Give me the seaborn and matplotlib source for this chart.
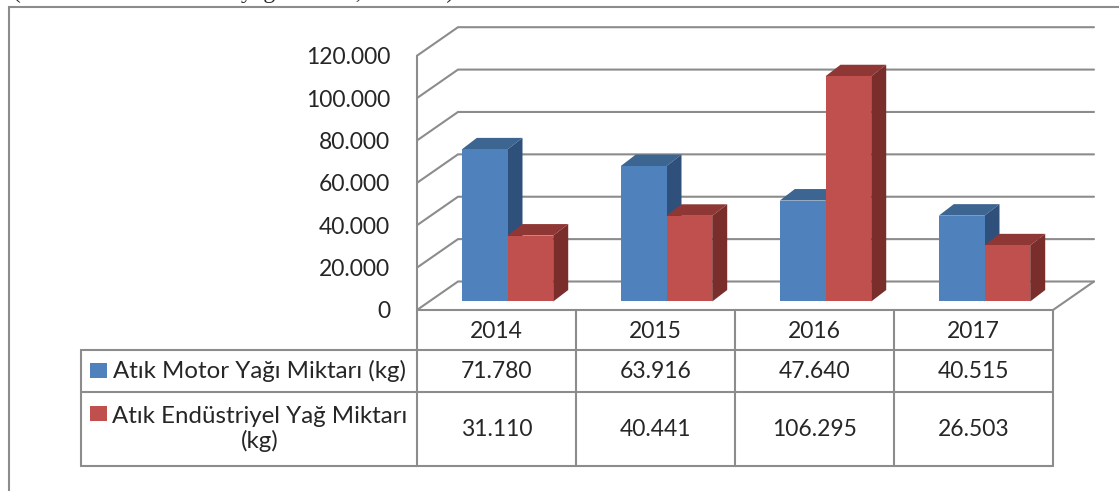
import pandas as pd
import seaborn as sns
import matplotlib.pyplot as plt
import matplotlib.transforms as mtransforms
from matplotlib.colors import to_hex
from matplotlib.patches import Polygon, Rectangle

# data
years = ["2014", "2015", "2016", "2017"]
motor_oil = [71780, 63916, 47640, 40515]
industrial_oil = [31110, 40441, 106295, 26503]
series_names = ["Atık Motor Yağı Miktarı (kg)", "Atık Endüstriyel Yağ Miktarı\n(kg)"]
y_ticks = [0, 20000, 40000, 60000, 80000, 100000, 120000]

W, H = 1119, 491
BLUE, RED = "#4F81BD", "#C0504D"
TOP = {BLUE: "#3D6591", RED: "#8E3735"}
SIDE = {BLUE: "#30507C", RED: "#7A2E2C"}
GRID = "#8C8C8C"
FS = 16.5


def tr(n):
    # turkish thousands separator
    return "0" if n == 0 else f"{n:,}".replace(",", ".")


sns.set_style("white")
plt.rcParams["font.family"] = ["Lato", "DejaVu Sans"]

df = pd.DataFrame({
    "Yıl": years * 2,
    "Miktar": motor_oil + industrial_oil,
    "Seri": [series_names[0]] * 4 + [series_names[1]] * 4,
})

fig = plt.figure(figsize=(W / 100, H / 100), dpi=100)

# pixel overlay for frame and table
bg = fig.add_axes([0, 0, 1, 1])
bg.set_xlim(0, W)
bg.set_ylim(H, 0)
bg.axis("off")

# front plane of the plot area (pixels)
L, R, B, T = 417, 1053, 310, 55.7
ax = fig.add_axes([L / W, (H - B) / H, (R - L) / W, (B - T) / H])
ax.patch.set_visible(False)

sns.barplot(data=df, x="Yıl", y="Miktar", hue="Seri", hue_order=series_names,
            palette=[BLUE, RED], width=0.575, saturation=1, legend=False,
            errorbar=None, linewidth=0, ax=ax)
ax.set_xlim(-0.5, 3.5)
ax.set_ylim(0, 120000)
ax.set_xlabel("")
ax.set_ylabel("")
ax.set_xticks([])
ax.set_yticks(y_ticks, [tr(v) for v in y_ticks])
ax.tick_params(axis="y", length=0, pad=27 * 0.72, labelsize=FS)
for s in ax.spines.values():
    s.set_visible(False)

# pixel -> data conversion
p0 = ax.transData.transform((0, 0))
p1 = ax.transData.transform((1, 1))
sx, sy = p1[0] - p0[0], p1[1] - p0[1]


def px(dx, dy):
    return dx / sx, dy / sy


# back wall, side wall and floor
wx, wy = px(41, 28.5)
for v in y_ticks:
    ax.plot([-0.5, -0.5 + wx, 3.5 + wx], [v, v + wy, v + wy], color=GRID, lw=1.5,
            clip_on=False, zorder=1, solid_joinstyle="miter")
ax.plot([-0.5, -0.5], [0, 120000], color=GRID, lw=1.5, clip_on=False, zorder=1)
ax.plot([3.5, 3.5 + wx], [0, wy], color=GRID, lw=1.5, clip_on=False, zorder=1)

# 3d bars
ox, oy = px(11, 8.5)
dx, dy = px(15, 11.5)
for p in list(ax.patches):
    col = to_hex(p.get_facecolor()).upper()
    k = 0 if col == BLUE else 1
    x0, w, h = p.get_x(), p.get_width(), p.get_height()
    p.set_x(x0 + ox)
    p.set_y(oy)
    p.set_zorder(3.5 + 2 * k)
    p.set_clip_on(False)
    xa, xb = x0 + ox, x0 + ox + w
    top = Polygon([(xa, h + oy), (xb, h + oy), (xb + dx, h + oy + dy), (xa + dx, h + oy + dy)],
                  closed=True, facecolor=TOP[col], edgecolor="none", zorder=3 + 2 * k, clip_on=False)
    side = Polygon([(xb, oy), (xb + dx, oy + dy), (xb + dx, h + oy + dy), (xb, h + oy)],
                   closed=True, facecolor=SIDE[col], edgecolor="none", zorder=3 + 2 * k, clip_on=False)
    ax.add_patch(top)
    ax.add_patch(side)

# data table
trans = mtransforms.blended_transform_factory(ax.transData, bg.transData)
row_top, row_mid, row_bot = 350, 391.7, 465.7
for i in range(len(years) + 1):
    bg.plot([i - 0.5, i - 0.5], [B, row_bot], color=GRID, lw=1.5, transform=trans, clip_on=False)
bg.plot([L, R], [B, B], color=GRID, lw=1.5)
for yy in (row_top, row_mid, row_bot):
    bg.plot([80.7, R], [yy, yy], color=GRID, lw=1.5)
bg.plot([80.7, 80.7], [row_top, row_bot], color=GRID, lw=1.5)

for i, yr in enumerate(years):
    bg.text(i, 331, yr, transform=trans, ha="center", va="center", fontsize=FS)
    bg.text(i, 371, tr(motor_oil[i]), transform=trans, ha="center", va="center", fontsize=FS)
    bg.text(i, 429, tr(industrial_oil[i]), transform=trans, ha="center", va="center", fontsize=FS)

bg.add_patch(Rectangle((90, 363), 16.5, 15, facecolor=BLUE, edgecolor="none"))
bg.add_patch(Rectangle((90, 406), 16.5, 15, facecolor=RED, edgecolor="none"))
bg.text(259.5, 371, series_names[0], ha="center", va="center", fontsize=17.3)
bg.text(259.5, 429, series_names[1], ha="center", va="center", multialignment="center",
        fontsize=17.3, linespacing=1.17)

# chart frame
bg.plot([9, 9, W], [H, 7, 7], color=GRID, lw=1.5, solid_joinstyle="miter")

# caption cut off by the page edge
fig.text(13 / W, 1 + 2 / H, "(Atık motor ve endüstri yağı miktarı, 2014-17)",
         family="Liberation Serif", fontsize=17, va="baseline", ha="left")

fig.savefig("out.png", dpi=100)
